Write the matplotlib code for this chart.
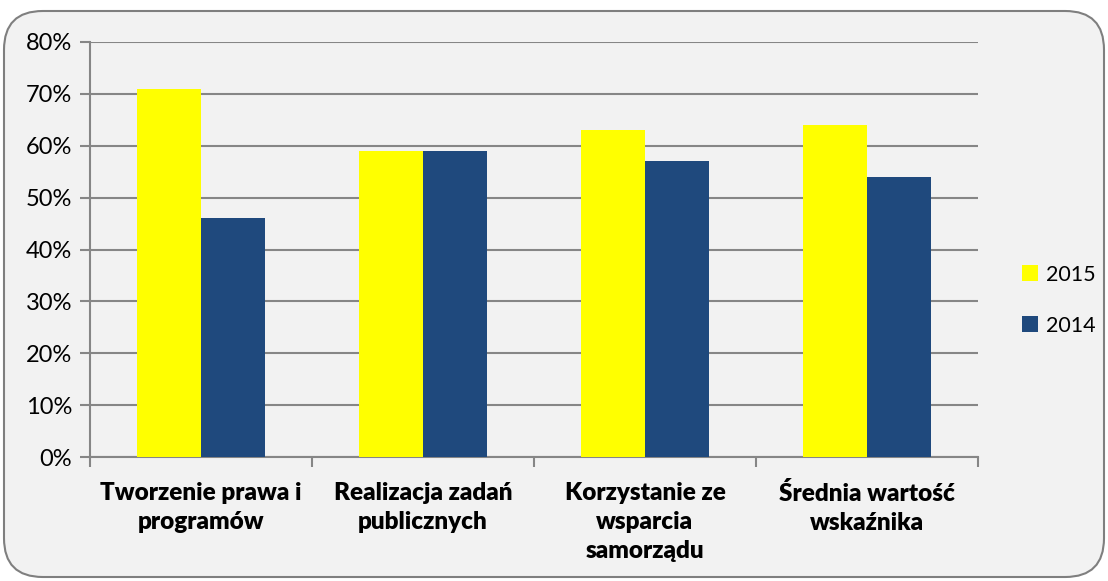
import matplotlib.pyplot as plt
from matplotlib.patches import FancyBboxPatch
import numpy as np

plt.rcParams['font.family'] = ['Lato', 'DejaVu Sans']

categories = ['Tworzenie prawa i\nprogramów', 'Realizacja zadań\npublicznych',
              'Korzystanie ze\nwsparcia\nsamorządu', 'Średnia wartość\nwskaźnika']
v2015 = [0.71, 0.59, 0.63, 0.64]
v2014 = [0.46, 0.59, 0.57, 0.54]

bg = '#f2f2f2'
grid_c = '#868686'

fig = plt.figure(figsize=(11.08, 5.81), dpi=100)
fig.patch.set_facecolor('white')
# rounded chart frame, behind the axes
frame = FancyBboxPatch((4/1108, 4/581), 1100/1108, 566/581,
                       boxstyle='round,pad=0,rounding_size=0.035',
                       transform=fig.transFigure, facecolor=bg,
                       edgecolor='#7f7f7f', linewidth=1.5, mutation_aspect=1108/581,
                       zorder=-5)
fig.patches.append(frame)

ax = fig.add_axes([90/1108, (581-457)/581, 888/1108, 415/581])
ax.set_facecolor(bg)

x = np.arange(len(categories))
w = 0.287
ax.bar(x - w/2, v2015, w, color='#ffff00', label='2015', zorder=3)
ax.bar(x + w/2, v2014, w, color='#1f497d', label='2014', zorder=3)

ax.set_xlim(-0.5, len(categories) - 0.5)
ax.set_ylim(0, 0.8)
yt = np.arange(0, 0.81, 0.1)
ax.set_yticks(yt)
ax.set_yticklabels([f'{int(round(v*100))}%' for v in yt], fontsize=17)
ax.yaxis.grid(True, color=grid_c, linewidth=1.5, zorder=0)
ax.tick_params(axis='y', length=7, width=1.5, color=grid_c, pad=6)

ax.set_xticks(np.arange(-0.5, len(categories)), minor=False)
ax.set_xticklabels([])
ax.set_xticks(x, minor=True)
ax.set_xticklabels(categories, minor=True, fontsize=17.5, fontweight='heavy',
                   linespacing=1.4)
ax.tick_params(axis='x', which='major', length=7, width=1.5, color=grid_c, direction='out')
ax.tick_params(axis='x', which='minor', length=0, pad=18)

for s in ['top', 'right']:
    ax.spines[s].set_visible(False)
for s in ['left', 'bottom']:
    ax.spines[s].set_color(grid_c)
    ax.spines[s].set_linewidth(1.5)

leg = ax.legend(loc='center left', bbox_to_anchor=(1.028, 0.378), frameon=False,
                fontsize=15.5, handlelength=0.75, handleheight=0.75, labelspacing=1.45,
                handletextpad=0.35)

fig.savefig('out.png', dpi=100, facecolor='white')
